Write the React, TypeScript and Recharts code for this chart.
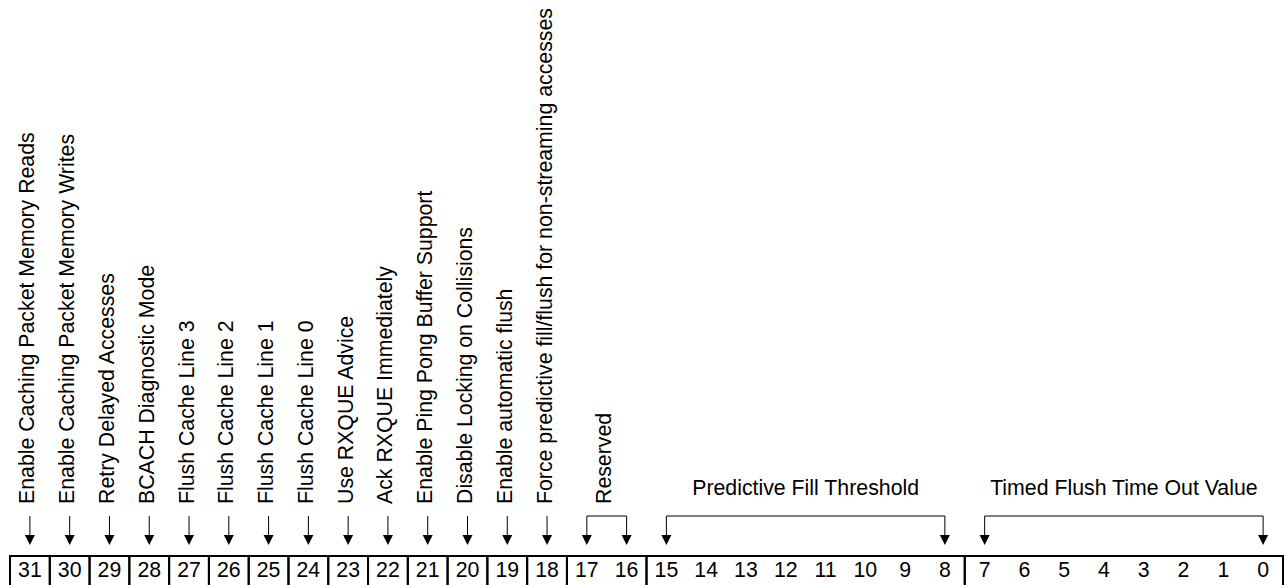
import { ComposedChart, XAxis, YAxis, Scatter, ReferenceArea, ReferenceLine } from 'recharts'

// register bits, msb first
const bitNumbers = [
  31, 30, 29, 28, 27, 26, 25, 24, 23, 22, 21, 20, 19, 18, 17, 16,
  15, 14, 13, 12, 11, 10, 9, 8, 7, 6, 5, 4, 3, 2, 1, 0,
]

// fields of the register
const fieldNames = [
  'Enable Caching Packet Memory Reads',
  'Enable Caching Packet Memory Writes',
  'Retry Delayed Accesses',
  'BCACH Diagnostic Mode',
  'Flush Cache Line 3',
  'Flush Cache Line 2',
  'Flush Cache Line 1',
  'Flush Cache Line 0',
  'Use RXQUE Advice',
  'Ack RXQUE Immediately',
  'Enable Ping Pong Buffer Support',
  'Disable Locking on Collisions',
  'Enable automatic flush',
  'Force predictive fill/flush for non-streaming accesses',
  'Reserved',
  'Predictive Fill Threshold',
  'Timed Flush Time Out Value',
]
const fieldMsb = [31, 30, 29, 28, 27, 26, 25, 24, 23, 22, 21, 20, 19, 18, 17, 15, 7]
const fieldLsb = [31, 30, 29, 28, 27, 26, 25, 24, 23, 22, 21, 20, 19, 18, 16, 8, 0]

const W = 1285
const H = 585
const FONT = '"Liberation Sans", Arial, Helvetica, sans-serif'
const FS = 21.3

// layout (y in pixels, y axis runs top -> bottom)
const ROW_TOP = 556
const ROW_MID = 569
const ARROW_TOP = 516
const ARROW_TIP = 545
const LABEL_BASE = 504
const TITLE_BASE = 495

const edgeBits = new Set([...fieldMsb, ...fieldLsb])
const rows = bitNumbers.map((bit) => ({
  bit,
  num: ROW_MID,
  arrow: edgeBits.has(bit) ? ARROW_TIP : null,
}))

const BitNumber = (p: any) => {
  if (!Number.isFinite(p.cx)) return <g />
  return (
    <text x={p.cx} y={p.cy} dy="0.36em" textAnchor="middle" fontSize={FS} fontFamily={FONT} fill="#000">
      {p.payload.bit}
    </text>
  )
}

const Arrow = (p: any) => {
  if (p.payload?.arrow == null || !Number.isFinite(p.cx) || !Number.isFinite(p.cy)) return <g />
  const { cx, cy } = p
  const top = cy - (ARROW_TIP - ARROW_TOP)
  return (
    <g>
      <line x1={cx} y1={top} x2={cx} y2={cy - 8} stroke="#000" strokeWidth={1} />
      <path d={`M${cx - 5},${cy - 10}L${cx + 5},${cy - 10}L${cx},${cy}Z`} fill="#000" />
    </g>
  )
}

const fieldLabel = (i: number) => (props: any) => {
  const vb = props.viewBox
  if (!vb) return null
  const cx = vb.x + vb.width / 2
  const wide = fieldMsb[i] - fieldLsb[i] > 1
  if (wide) {
    return (
      <text x={cx} y={TITLE_BASE} textAnchor="middle" fontSize={FS} fontFamily={FONT} fill="#000">
        {fieldNames[i]}
      </text>
    )
  }
  const x = cx + 4.5
  const y = vb.y + vb.height
  return (
    <text x={x} y={y} transform={`rotate(-90 ${x} ${y})`} textAnchor="start" fontSize={FS} fontFamily={FONT} fill="#000">
      {fieldNames[i]}
    </text>
  )
}

export default function App() {
  return (
    <div style={{ position: 'absolute', left: 0, top: 0, background: '#fff' }}>
      <ComposedChart width={W} height={H} data={rows} margin={{ top: 0, right: 2, bottom: 0, left: 10 }}>
        <XAxis dataKey="bit" type="category" scale="band" hide />
        <YAxis type="number" domain={[0, H]} reversed hide allowDataOverflow />

        {fieldNames.map((name, i) => (
          <ReferenceArea
            key={`box-${name}`}
            x1={fieldMsb[i]}
            x2={fieldLsb[i]}
            y1={ROW_TOP}
            y2={H + 20}
            ifOverflow="visible"
            fill="none"
            stroke="#000"
            strokeWidth={2}
            fillOpacity={0}
          />
        ))}

        {fieldNames.map((name, i) =>
          fieldMsb[i] !== fieldLsb[i] ? (
            <ReferenceLine
              key={`br-${name}`}
              segment={[
                { x: fieldMsb[i], y: ARROW_TOP },
                { x: fieldLsb[i], y: ARROW_TOP },
              ]}
              stroke="#000"
              strokeWidth={1}
            />
          ) : null
        )}

        {fieldNames.map((name, i) => (
          <ReferenceArea
            key={`lbl-${name}`}
            x1={fieldMsb[i]}
            x2={fieldLsb[i]}
            y1={0}
            y2={LABEL_BASE}
            fill="none"
            stroke="none"
            fillOpacity={0}
            label={fieldLabel(i)}
          />
        ))}

        <Scatter dataKey="num" shape={BitNumber} isAnimationActive={false} />
        <Scatter dataKey="arrow" shape={Arrow} isAnimationActive={false} />
      </ComposedChart>
    </div>
  )
}
